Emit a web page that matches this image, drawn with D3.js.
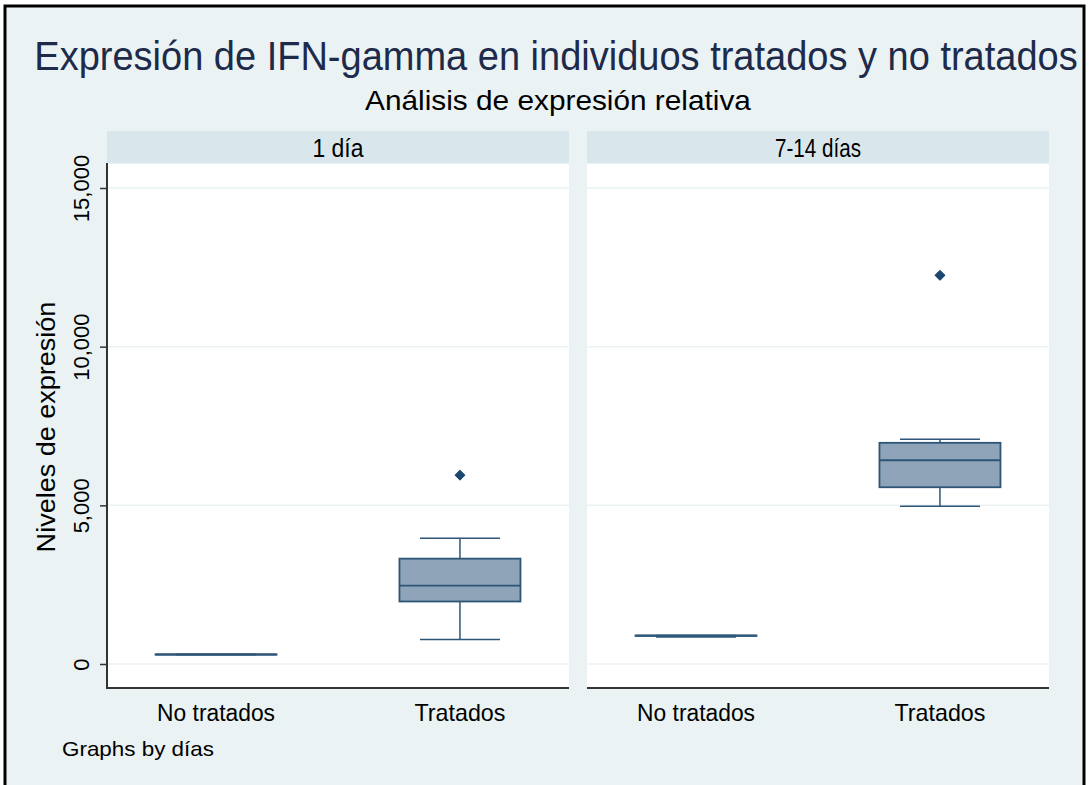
<!DOCTYPE html>
<html>
<head>
<meta charset="utf-8">
<script src="https://cdn.jsdelivr.net/npm/d3@7"></script>
<style>
  body { margin: 0; background: #ffffff; }
  svg { display: block; font-family: "Liberation Sans", Arial, sans-serif; }
</style>
</head>
<body>
<div id="chart"></div>
<script>
// ===================== DATA =====================
let panels = [ '1 día', '7-14 días' ];
let groups = [ 'No tratados', 'Tratados' ];
// box summaries, indexed [panel][group]
let wLow   = [ [ 290, 770 ],  [ 850, 4970 ] ];
let q1     = [ [ 295, 1970 ], [ 885, 5570 ] ];
let median = [ [ 300, 2470 ], [ 895, 6420 ] ];
let q3     = [ [ 305, 3320 ], [ 900, 6970 ] ];
let wHigh  = [ [ 310, 3960 ], [ 900, 7080 ] ];
let outliers = [ [ [], [ 5950 ] ], [ [], [ 12250 ] ] ];
let yTicks = [ 0, 5000, 10000, 15000 ];

// ===================== LAYOUT =====================
let width = 1090, height = 785;
let bg = '#eaf2f3', stripFill = '#d9e6eb', navy = '#1a476f';
let boxFill = '#8fa4b8', boxStroke = '#2d5577';
let panelX = [ 107, 587 ], panelW = 462;
let plotTop = 164, plotBottom = 688;
let stripTop = 131;

let svg = d3.select('#chart').append('svg')
    .attr('width', width)
    .attr('height', height);

// background + frame
svg.append('rect').attr('x', 5).attr('y', 6).attr('width', 1079).attr('height', height)
    .attr('fill', bg);
svg.append('path')
    .attr('d', 'M5,' + height + ' V6 H1084 V' + height)
    .attr('fill', 'none').attr('stroke', '#000').attr('stroke-width', 3);

let y = d3.scaleLinear().domain([ 0, 15000 ]).range([ 664, 188 ]);
let x = d3.scalePoint().domain(groups).range([ 0, panelW ]).padding(0.447);
let boxW = 121, capW = 80;

// text squeezed to a target length (the original render is condensed)
function addText(t, px, py, size, len, opts) {
    opts = opts || {};
    let el = svg.append('text')
        .attr('x', 0).attr('y', 0)
        .attr('font-size', size)
        .attr('fill', opts.fill || '#000')
        .attr('text-anchor', opts.anchor || 'middle')
        .text(t);
    let s = len ? len / el.node().getComputedTextLength() : 1;
    let rot = opts.rotate ? ' rotate(-90)' : '';
    el.attr('transform', 'translate(' + px + ',' + py + ')' + rot + ' scale(' + s + ',1)');
    return el;
}

// titles
addText('Expresión de IFN-gamma en individuos tratados y no tratados', 556, 70, 41, 1044, { fill: '#1e2a4a' });
addText('Análisis de expresión relativa', 558, 110, 27, 386);

panels.forEach(function (p, pi) {
    let g = svg.append('g').attr('transform', 'translate(' + panelX[pi] + ',0)');

    // strip
    g.append('rect').attr('x', 0).attr('y', stripTop).attr('width', panelW)
        .attr('height', plotTop - stripTop - 1).attr('fill', stripFill);
    // plot region
    g.append('rect').attr('x', 0).attr('y', plotTop).attr('width', panelW)
        .attr('height', plotBottom - plotTop).attr('fill', '#fff');

    // gridlines
    g.selectAll('.grid').data(yTicks).enter().append('line')
        .attr('x1', 0).attr('x2', panelW)
        .attr('y1', function (d) { return y(d); })
        .attr('y2', function (d) { return y(d); })
        .attr('stroke', bg).attr('stroke-width', 1.5);

    // bottom axis
    g.append('line').attr('x1', 0).attr('x2', panelW)
        .attr('y1', plotBottom).attr('y2', plotBottom)
        .attr('stroke', '#333').attr('stroke-width', 2);

    // boxes
    groups.forEach(function (grp, gi) {
        let cx = x(grp);
        let bx = g.append('g');
        bx.append('line').attr('x1', cx).attr('x2', cx)
            .attr('y1', y(wLow[pi][gi])).attr('y2', y(q1[pi][gi]))
            .attr('stroke', boxStroke).attr('stroke-width', 1.5);
        bx.append('line').attr('x1', cx).attr('x2', cx)
            .attr('y1', y(q3[pi][gi])).attr('y2', y(wHigh[pi][gi]))
            .attr('stroke', boxStroke).attr('stroke-width', 1.5);
        [ wLow[pi][gi], wHigh[pi][gi] ].forEach(function (v) {
            bx.append('line').attr('x1', cx - capW / 2).attr('x2', cx + capW / 2)
                .attr('y1', y(v)).attr('y2', y(v))
                .attr('stroke', boxStroke).attr('stroke-width', 1.5);
        });
        bx.append('rect').attr('x', cx - boxW / 2).attr('width', boxW)
            .attr('y', y(q3[pi][gi])).attr('height', y(q1[pi][gi]) - y(q3[pi][gi]))
            .attr('fill', boxFill).attr('stroke', boxStroke).attr('stroke-width', 1.8);
        bx.append('line').attr('x1', cx - boxW / 2).attr('x2', cx + boxW / 2)
            .attr('y1', y(median[pi][gi])).attr('y2', y(median[pi][gi]))
            .attr('stroke', boxStroke).attr('stroke-width', 1.8);
        // outliers: small rounded diamonds
        bx.selectAll('.out').data(outliers[pi][gi]).enter().append('path')
            .attr('d', d3.symbol().type(d3.symbolSquare).size(44))
            .attr('transform', function (d) { return 'translate(' + cx + ',' + y(d) + ') rotate(45)'; })
            .attr('fill', navy).attr('stroke', navy).attr('stroke-width', 1.2)
            .attr('stroke-linejoin', 'round');

        addText(grp, panelX[pi] + cx, 721, 24, gi === 0 ? 118 : 91);
    });

    addText(p, panelX[pi] + panelW / 2, 156.5, 26, pi === 0 ? 51 : 86);
});

// left axis (first panel only)
let yAxis = d3.axisLeft(y).tickValues(yTicks).tickSize(7).tickFormat(d3.format(','));
let ax = svg.append('g').attr('transform', 'translate(' + panelX[0] + ',0)').call(yAxis);
ax.select('.domain').remove();
ax.append('line').attr('x1', 0).attr('x2', 0).attr('y1', plotTop - 1).attr('y2', plotBottom + 1)
    .attr('stroke', '#333').attr('stroke-width', 2);
ax.selectAll('.tick line').attr('stroke', '#333').attr('stroke-width', 1.5);
ax.selectAll('.tick text')
    .attr('font-size', 22)
    .attr('font-family', '"Liberation Sans", Arial, sans-serif')
    .attr('fill', '#000')
    .attr('x', 0).attr('y', 0)
    .attr('dy', 0)
    .attr('text-anchor', 'middle')
    .attr('transform', 'translate(-18,0) rotate(-90)');

addText('Niveles de expresión', 55, 427, 25, 251, { rotate: true });
addText('Graphs by días', 62, 756, 20, 152, { anchor: 'start' });
</script>
</body>
</html>
